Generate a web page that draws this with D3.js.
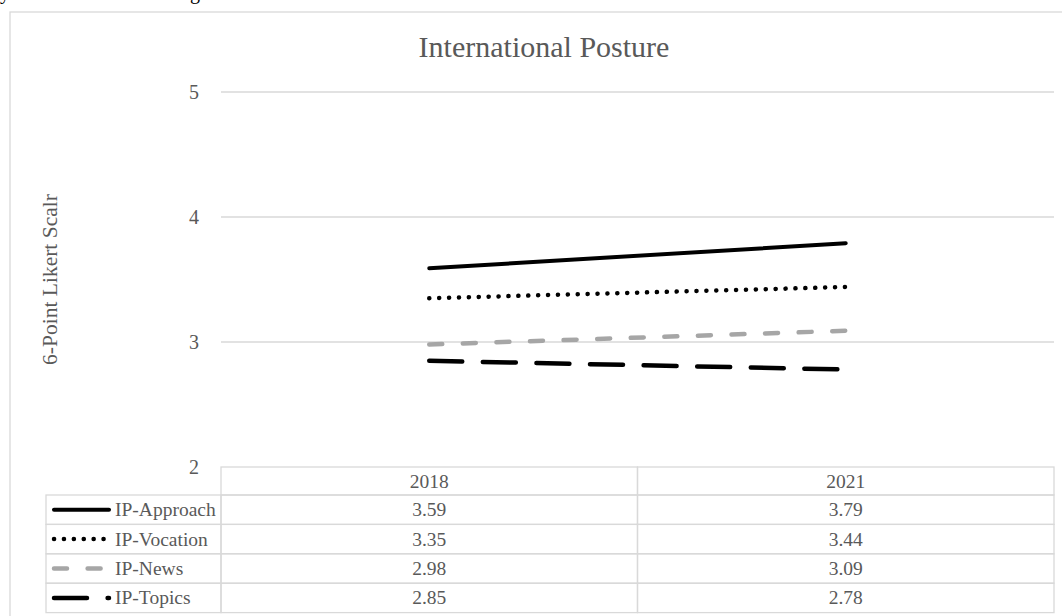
<!DOCTYPE html>
<html lang="en">
<head>
    <meta charset="UTF-8">
    <title>International Posture</title>
    <style>
        body {
            margin: 0;
            padding: 0;
            background-color: #ffffff;
            overflow: hidden;
        }
        svg text {
            font-family: 'Liberation Serif', 'Times New Roman', serif;
            fill: #595959;
        }
        .grid line {
            stroke: #d9d9d9;
            stroke-width: 1.3px;
        }
        .cell {
            fill: none;
            stroke: #d9d9d9;
            stroke-width: 1.3px;
        }
        .series {
            fill: none;
        }
    </style>
</head>
<body>
    <div id="chart"></div>

    <script src="https://d3js.org/d3.v7.min.js"></script>
    <script>
        // data
        const categories = ["2018", "2021"];
        const seriesNames = ["IP-Approach", "IP-Vocation", "IP-News", "IP-Topics"];
        const approach = [3.59, 3.79];
        const vocation = [3.35, 3.44];
        const news = [2.98, 3.09];
        const topics = [2.85, 2.78];
        const yTicks = [2, 3, 4, 5];

        const seriesValues = [approach, vocation, news, topics];

        // line styles per series
        const styles = [
            { color: '#000000', width: 4, dash: null, cap: 'round' },
            { color: '#000000', width: 4.5, dash: '0.1 9.8', cap: 'round' },
            { color: '#a6a6a6', width: 4.5, dash: '13 20.6', cap: 'round' },
            { color: '#000000', width: 4.5, dash: '33 20.6', cap: 'round' }
        ];

        const width = 1062;
        const height = 616;

        const plot = { left: 221, right: 1054, top: 92, bottom: 467 };
        const table = { legendLeft: 46, headerH: 28, rowH: 29.4 };

        const svg = d3.select('#chart')
            .append('svg')
            .attr('width', width)
            .attr('height', height);

        // cut-off caption text from the page above
        svg.append('text')
            .attr('x', 0)
            .attr('y', -1)
            .style('font-size', '20px')
            .style('fill', '#000')
            .text('y');
        svg.append('text')
            .attr('x', 190)
            .attr('y', -1)
            .style('font-size', '20px')
            .style('fill', '#000')
            .text('g');

        // chart frame
        svg.append('rect')
            .attr('x', 10)
            .attr('y', 12)
            .attr('width', 1100)
            .attr('height', 700)
            .attr('fill', 'none')
            .attr('stroke', '#d9d9d9')
            .attr('stroke-width', 1.3);

        const x = d3.scaleBand()
            .domain(categories)
            .range([plot.left, plot.right]);

        const y = d3.scaleLinear()
            .domain([2, 5])
            .range([plot.bottom, plot.top]);

        // gridlines
        svg.append('g')
            .attr('class', 'grid')
            .selectAll('line')
            .data(yTicks.filter(t => t > 2))
            .enter().append('line')
            .attr('x1', plot.left)
            .attr('x2', plot.right)
            .attr('y1', d => y(d))
            .attr('y2', d => y(d));

        // y axis labels
        const yAxis = svg.append('g')
            .attr('transform', `translate(${plot.left},0)`)
            .call(d3.axisLeft(y).tickValues(yTicks).tickSize(0).tickPadding(22).tickFormat(d3.format('d')));
        yAxis.select('.domain').remove();
        yAxis.selectAll('text')
            .style('font-size', '20px')
            .style('font-family', "'Liberation Serif', serif")
            .attr('fill', '#595959');

        // title
        svg.append('text')
            .attr('x', 544)
            .attr('y', 57)
            .attr('text-anchor', 'middle')
            .style('font-size', '30px')
            .text('International Posture');

        // y axis title
        svg.append('text')
            .attr('transform', `translate(57,${(plot.top + plot.bottom) / 2}) rotate(-90)`)
            .attr('text-anchor', 'middle')
            .style('font-size', '21.5px')
            .text('6-Point Likert Scalr');

        // series lines
        const line = d3.line()
            .x((d, i) => x(categories[i]) + x.bandwidth() / 2)
            .y(d => y(d));

        svg.append('g')
            .selectAll('path')
            .data(seriesValues)
            .enter().append('path')
            .attr('class', 'series')
            .attr('d', d => line(d))
            .attr('stroke', (d, i) => styles[i].color)
            .attr('stroke-width', (d, i) => styles[i].width)
            .attr('stroke-dasharray', (d, i) => styles[i].dash)
            .attr('stroke-linecap', (d, i) => styles[i].cap);

        // data table
        const tableG = svg.append('g');
        const headerTop = plot.bottom;
        const rowTop = i => headerTop + table.headerH + i * table.rowH;

        // header cells
        categories.forEach(c => {
            tableG.append('rect')
                .attr('class', 'cell')
                .attr('x', x(c))
                .attr('y', headerTop)
                .attr('width', x.bandwidth())
                .attr('height', table.headerH);
            tableG.append('text')
                .attr('x', x(c) + x.bandwidth() / 2)
                .attr('y', headerTop + table.headerH / 2 + 6.5)
                .attr('text-anchor', 'middle')
                .style('font-size', '19.5px')
                .text(c);
        });

        seriesNames.forEach((name, i) => {
            const top = rowTop(i);
            const mid = top + table.rowH / 2;
            // legend cell
            tableG.append('rect')
                .attr('class', 'cell')
                .attr('x', table.legendLeft)
                .attr('y', top)
                .attr('width', plot.left - table.legendLeft)
                .attr('height', table.rowH);
            tableG.append('line')
                .attr('x1', 54)
                .attr('x2', 109)
                .attr('y1', mid)
                .attr('y2', mid)
                .attr('stroke', styles[i].color)
                .attr('stroke-width', styles[i].width)
                .attr('stroke-dasharray', styles[i].dash)
                .attr('stroke-linecap', styles[i].cap);
            tableG.append('text')
                .attr('x', 115)
                .attr('y', mid + 6.5)
                .style('font-size', '19.5px')
                .text(name);

            categories.forEach((c, j) => {
                tableG.append('rect')
                    .attr('class', 'cell')
                    .attr('x', x(c))
                    .attr('y', top)
                    .attr('width', x.bandwidth())
                    .attr('height', table.rowH);
                tableG.append('text')
                    .attr('x', x(c) + x.bandwidth() / 2)
                    .attr('y', mid + 6.5)
                    .attr('text-anchor', 'middle')
                    .style('font-size', '19.5px')
                    .text(seriesValues[i][j].toFixed(2));
            });
        });
    </script>
</body>
</html>
